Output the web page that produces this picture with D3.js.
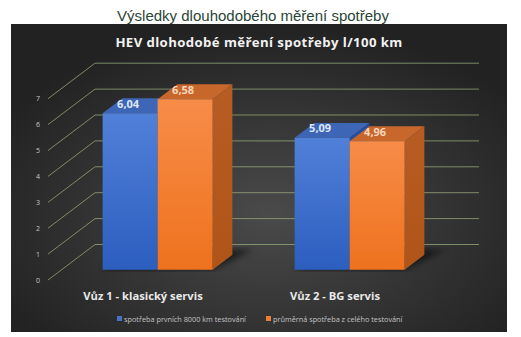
<!DOCTYPE html>
<html><head><meta charset="utf-8">
<script src="https://cdn.jsdelivr.net/npm/d3@7"></script>
<style>html,body{margin:0;padding:0;background:#fff;}svg{display:block;}</style>
</head><body>
<svg id="c" width="521" height="337"></svg>
<script>
const categories = ["Vůz 1 - klasický servis", "Vůz 2 - BG servis"];
const seriesNames = ["spotřeba prvních 8000 km testování", "průměrná spotřeba z celého testování"];
const firstKm = [6.04, 5.09];
const wholeTest = [6.58, 4.96];
const yTicks = [0, 1, 2, 3, 4, 5, 6, 7];
const pageTitle = "Výsledky dlouhodobého měření spotřeby";
const chartTitle = "HEV dlohodobé měření spotřeby l/100 km";

const svg = d3.select("#c");
const defs = svg.append("defs");

// panel background
const rg = defs.append("radialGradient").attr("id","bg").attr("cx","52%").attr("cy","62%").attr("r","62%");
rg.append("stop").attr("offset","0%").attr("stop-color","#4a4a4a");
rg.append("stop").attr("offset","100%").attr("stop-color","#222222");
svg.append("rect").attr("x",11).attr("y",24).attr("width",496).attr("height",308).attr("fill","url(#bg)");

svg.append("text").attr("x",253).attr("y",21).attr("text-anchor","middle")
  .attr("font-family","Liberation Sans, Arial, sans-serif").attr("font-size",15)
  .attr("fill","#2a4536").text(pageTitle);
svg.append("text").attr("x",259).attr("y",47).attr("text-anchor","middle")
  .attr("font-family","Open Sans, sans-serif").attr("font-weight","bold").attr("font-size",13.2)
  .attr("letter-spacing","0.4").attr("fill","#f2f2f2").text(chartTitle);

// 3D projection
const DX = 47, DY = -35.5;
const x = d3.scaleBand().domain(categories).range([48, 432]);
const y = d3.scaleLinear().domain([0, 7]).range([280, 280 - 7 * 25.9]);
const po = (x.bandwidth() / 55 - 2) / 2;
const xs = d3.scaleBand().domain(seriesNames).range([0, x.bandwidth()]).paddingOuter(po);
const P = (px, v, d) => [px + DX * d, y(v) + DY * d];

// gridlines
const g = svg.append("g");
yTicks.forEach(t => {
  const a = P(x.range()[0], t, 0), b = P(x.range()[0], t, 1), c = P(x.range()[1], t, 1);
  g.append("path").attr("d", `M${a}L${b}L${c}`).attr("fill","none")
    .attr("stroke","#97ab78").attr("stroke-width",0.9).attr("opacity",0.85);
  g.append("text").attr("x",40).attr("y",a[1]+2.5).attr("text-anchor","end")
    .attr("font-family","Open Sans, sans-serif").attr("font-size",7).attr("fill","#c8c8c8").text(t);
});

// gradients for bars
function lin(id, c1, c2){
  const lg = defs.append("linearGradient").attr("id",id).attr("x1",0).attr("y1",0).attr("x2",0).attr("y2",1);
  lg.append("stop").attr("offset","0%").attr("stop-color",c1);
  lg.append("stop").attr("offset","100%").attr("stop-color",c2);
}
lin("bF","#5080d8","#2c5ec0");
lin("oF","#f78c48","#ee721e");
lin("oS","#b75c22","#b0551a");
defs.append("filter").attr("id","blur").append("feGaussianBlur").attr("stdDeviation",3);

const colors = {
  [seriesNames[0]]: {front:"url(#bF)", top:"#3e66b6", side:"#244f9e", label:"#dfe6f5"},
  [seriesNames[1]]: {front:"url(#oF)", top:"#c8672c", side:"url(#oS)", label:"#f7d6bd"}
};
const d0 = 0.29, d1 = 0.71;
const data = [];
categories.forEach((c, i) => {
  data.push({cat:c, s:seriesNames[0], v:firstKm[i]});
  data.push({cat:c, s:seriesNames[1], v:wholeTest[i]});
});

// shadows
categories.forEach(c => {
  const xl = x(c) + xs(seriesNames[0]), xr = x(c) + xs(seriesNames[1]) + xs.bandwidth();
  const a = P(xl, 0, d0), b = P(xr, 0, d0), bb = P(xr + 14, 0, d1 + 0.15), ab = P(xl + 4, 0, d1 + 0.1);
  svg.append("path").attr("d", `M${a}L${b}L${bb}L${ab}Z`).attr("fill","#000").attr("opacity",0.55).attr("filter","url(#blur)");
});

const bars = svg.append("g");
data.forEach(d => {
  const xl = x(d.cat) + xs(d.s), xr = xl + xs.bandwidth();
  const col = colors[d.s];
  const fbl = P(xl,0,d0), fbr = P(xr,0,d0), ftl = P(xl,d.v,d0), ftr = P(xr,d.v,d0);
  const btl = P(xl,d.v,d1), btr = P(xr,d.v,d1), bbr = P(xr,0,d1);
  bars.append("path").attr("d",`M${fbr}L${ftr}L${btr}L${bbr}Z`).attr("fill",col.side);
  bars.append("path").attr("d",`M${ftl}L${ftr}L${btr}L${btl}Z`).attr("fill",col.top);
  bars.append("path").attr("d",`M${fbl}L${ftl}L${ftr}L${fbr}Z`).attr("fill",col.front);
});
data.forEach(d => {
  const xl = x(d.cat) + xs(d.s);
  const p = P(xl + xs.bandwidth()/2, d.v, d0);
  bars.append("text").attr("x",p[0]-2).attr("y",p[1]-5.5).attr("text-anchor","middle")
    .attr("font-family","Open Sans, sans-serif").attr("font-weight","bold").attr("font-size",11)
    .attr("fill",colors[d.s].label).text(d3.format(".2f")(d.v).replace(".", ","));
});

// category labels
categories.forEach(c => {
  svg.append("text").attr("x", x(c) + x.bandwidth()/2 - 1).attr("y",300).attr("text-anchor","middle")
    .attr("font-family","Open Sans, sans-serif").attr("font-weight","bold").attr("font-size",11.2)
    .attr("fill","#e8e8e8").text(c);
});

// legend
const legX = [117, 266];
seriesNames.forEach((s, i) => {
  svg.append("rect").attr("x",legX[i]).attr("y",316).attr("width",5).attr("height",5)
    .attr("fill", i === 0 ? "#4472c4" : "#ed7d31");
  svg.append("text").attr("x",legX[i]+7).attr("y",321.5).attr("font-family","Open Sans, sans-serif")
    .attr("font-size",7.3).attr("fill","#c4c4c4").text(s);
});
</script>
</body></html>
